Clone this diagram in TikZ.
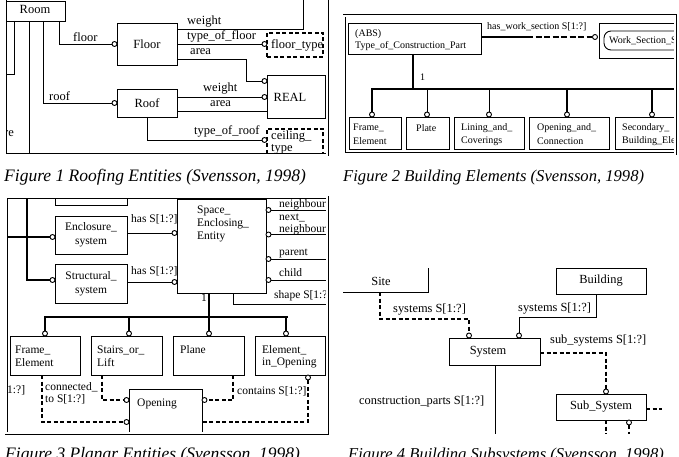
\documentclass[tikz,border=0pt]{standalone}
\usepackage{fontspec}
\setmainfont{Liberation Serif}
\newcommand\fA{\fontsize{12.5}{12.5}\selectfont}
\newcommand\fB{\fontsize{10}{12.5}\selectfont}
\newcommand\fC{\fontsize{11.5}{14}\selectfont}
\newcommand\fD{\fontsize{12.4}{14}\selectfont}
\newcommand\bx[6][box]{\node[#1, minimum width={(#5)-(#3)}, minimum height={(#6)-(#4)}] (#2) at ({((#3)+(#5))/2},{((#4)+(#6))/2}) {};}
\begin{document}
\begin{tikzpicture}[x=1pt,y=-1pt,
  box/.style={draw, line width=0.9pt, inner sep=0pt, outer sep=0pt},
  dbox/.style={draw, line width=1.6pt, dash pattern=on 4pt off 2.5pt, inner sep=0pt, outer sep=0pt},
  ln/.style={line width=0.9pt},
  thk/.style={line width=2.6pt},
  mid/.style={line width=1.8pt},
  dsh/.style={line width=1.8pt, dash pattern=on 4pt off 2.5pt},
  oc/.style={circle, draw, fill=white, line width=0.9pt, inner sep=0pt, minimum size=5pt},
  frm/.style={draw, double, double distance=1.6pt, line width=0.7pt},
  tx/.style={inner sep=0pt, anchor=west},
  captxt/.style={inner sep=0pt, anchor=base west, font=\fontsize{17.5}{20}\selectfont\itshape},
  captxtb/.style={inner sep=0pt, anchor=base west, font=\fontsize{16.6}{20}\selectfont\itshape},
]
\useasboundingbox (0,0) rectangle (679,457);

% ================= Figure 1 =================
\begin{scope}[font=\fA]
\clip (5,-5) rectangle (327,155);
\bx{room}{6}{1}{65}{21}
\node (troom) at (35,9) {Room};
\bx{floor}{117}{23}{177}{65}
\node (tfloor) at (floor.center) {Floor};
\bx{roof}{117}{89}{177}{117}
\node (troof) at (roof.center) {Roof};
\bx[dbox]{ftype}{267}{33}{323}{57}
\node[tx] (tftype) at (271,45) {floor\_type};
\bx{real}{267}{75}{325}{118}
\node (treal) at (290,97) {REAL};
\bx[dbox]{ctype}{267}{129}{323}{165}
\node[tx] (tct1) at (271,137) {ceiling\_};
\node[tx] (tct2) at (271,149) {type};
\node[oc] (cf) at (114.5,44) {};
\node[oc] (cr) at (114.5,103) {};
\node[oc] (cft) at (264.5,44) {};
\node[oc] (cra) at (264.5,81) {};
\node[oc] (crw) at (264.5,97) {};
\node[oc] (cct) at (264.5,140) {};
\coordinate (b1) at (14,74); \coordinate (b1l) at (0,74);
\draw[ln] (room.south -| b1) -- (b1) -- (b1l);
\coordinate (b2) at (29,160);
\draw[ln] (room.south -| b2) -- (b2);
\coordinate (b3) at (43,103);
\draw[ln] (room.south -| b3) -- (b3) -- (cr);
\coordinate (b4) at (59,44);
\draw[ln] (room.south -| b4) -- (b4) -- (cf);
\coordinate (b5) at (303,29); \coordinate (b5t) at (303,-5);
\draw[ln] (floor.east |- b5) -- (b5) -- (b5t);
\draw[ln] (floor.east |- cft) -- (cft);
\coordinate (b6) at (246,59); \coordinate (b7) at (246,81);
\draw[ln] (floor.east |- b6) -- (b6) -- (b7) -- (cra);
\draw[ln] (roof.east |- crw) -- (crw);
\coordinate (b8) at (180,111);
\draw[ln] (roof.east |- b8) -- (real.west |- b8);
\draw[ln] (roof.south) -- (roof.south |- cct) -- (cct);
\node[tx] (l1) at (73,37) {floor};
\node[tx] (l2) at (49,96) {roof};
\node[tx] (l3) at (187,22) {weight};
\node[tx] (l4) at (187,36) {type\_of\_floor};
\node[tx] (l5) at (190,52) {area};
\node[tx] (l6) at (203,89) {weight};
\node[tx] (l7) at (210,104) {area};
\node[tx] (l8) at (194,131) {type\_of\_roof};
\node[tx] (l9) at (4,134) {re};
\end{scope}
\draw[frm] (5,-5) rectangle (327,155);
\node[captxt] (cap1) at (4,181) {Figure 1 Roofing Entities (Svensson, 1998)};

% ================= Figure 2 =================
\begin{scope}[font=\fB]
\clip (344,16) rectangle (675,154);
\bx{abs}{348}{23}{481}{54}
\node[tx] (tabs1) at (355,34) {(ABS)};
\node[tx] (tabs2) at (355,46) {Type\_of\_Construction\_Part};
\node[oc] (cws) at (595,37) {};
\bx{wsout}{599}{23}{700}{58}
\node[box, rounded corners=7pt, minimum width=100, minimum height=19, anchor=west] (ws) at (604,40.5) {};
\node[tx] (tws) at (609,41) {Work\_Section\_S};
\coordinate (hw) at (527,37);
\draw[mid] (abs.east |- hw) -- (hw);
\draw[dsh, dash pattern=on 6pt off 2.5pt] (hw) -- (cws);
\node[tx] (lhw) at (487,27) {has\_work\_section S[1:?]};
\coordinate (bus2) at (413,89);
\draw[thk] (abs.south -| bus2) -- (bus2);
\coordinate (busL) at (371,89); \coordinate (busR) at (690,89);
\draw[thk] (busL) -- (busR);
\node[tx] (lone2) at (420,77) {1};
\bx{fe2}{349}{117}{401}{149}
\bx{plate}{406}{117}{449}{149}
\bx{lining}{454}{117}{524}{149}
\bx{opcon}{529}{117}{609}{149}
\bx{sbe}{615}{117}{700}{149}
\node[oc] (c21) at (372,114.5) {};
\node[oc] (c22) at (427,114.5) {};
\node[oc] (c23) at (489,114.5) {};
\node[oc] (c24) at (567,114.5) {};
\node[oc] (c25) at (652,114.5) {};
\draw[thk] (c21 |- busL) -- (c21);
\draw[ln] (c22 |- busL) -- (c22);
\draw[ln] (c23 |- busL) -- (c23);
\draw[thk] (c24 |- busL) -- (c24);
\draw[thk] (c25 |- busL) -- (c25);
\node[tx] (t21) at (353,128) {Frame\_};
\node[tx] (t22) at (353,141) {Element};
\node[tx] (t23) at (416,128) {Plate};
\node[tx] (t24) at (461,128) {Lining\_and\_};
\node[tx] (t25) at (461,141) {Coverings};
\node[tx] (t26) at (537,128) {Opening\_and\_};
\node[tx] (t27) at (537,141) {Connection};
\node[tx] (t28) at (622,128) {Secondary\_};
\node[tx] (t29) at (622,141) {Building\_Ele};
\end{scope}
\draw[frm] (344,16) rectangle (675,154);
\node[captxtb] (cap2) at (343,181) {Figure 2 Building Elements (Svensson, 1998)};

% ================= Figure 3 =================
\begin{scope}[font=\fC]
\clip (6,197) rectangle (327,433);
\bx{topbox}{55}{180}{127}{205}
\bx{encl}{55}{216}{127}{254}
\node[align=center, inner sep=0pt] (tencl) at (encl.center) {Enclosure\_\\system};
\bx{struc}{55}{264}{127}{303}
\node[align=center, inner sep=0pt] (tstruc) at (struc.center) {Structural\_\\system};
\bx{space}{177}{199}{266}{293}
\node[tx] (ts1) at (197,211) {Space\_};
\node[tx] (ts2) at (197,224) {Enclosing\_};
\node[tx] (ts3) at (197,237) {Entity};
\node[oc] (ce1) at (52.5,237) {};
\node[oc] (cs1) at (52.5,280) {};
\node[oc] (ce2) at (174.5,233) {};
\node[oc] (cs2) at (174.5,282) {};
\node[oc] (cn1) at (268.5,210) {};
\node[oc] (cn2) at (268.5,234.5) {};
\node[oc] (cn3) at (268.5,259) {};
\node[oc] (cn4) at (268.5,280) {};
\coordinate (lft1) at (0,237);
\draw[thk] (lft1) -- (ce1);
\coordinate (lft2) at (27,190); \coordinate (lft3) at (27,280);
\draw[thk] (lft2) -- (lft3) -- (cs1);
\draw[ln] (encl.east |- ce2) -- (ce2);
\draw[ln] (struc.east |- cs2) -- (cs2);
\coordinate (rr) at (340,0);
\draw[ln] (cn1) -- (cn1 -| rr);
\draw[ln] (cn2) -- (cn2 -| rr);
\draw[ln] (cn3) -- (cn3 -| rr);
\draw[ln] (cn4) -- (cn4 -| rr);
\node[tx] (lh1) at (131,219) {has S[1:?]};
\node[tx] (lh2) at (131,271) {has S[1:?]};
\node[tx] (ln1) at (279,205) {neighbour};
\node[tx] (ln2) at (279,218) {next\_};
\node[tx] (ln3) at (279,230) {neighbour};
\node[tx] (ln4) at (279,253) {parent};
\node[tx] (ln5) at (279,273) {child};
\coordinate (sh1) at (233,304);
\draw[ln] (space.south -| sh1) -- (sh1) -- (sh1 -| rr);
\node[tx] (lsh) at (274,296) {shape S[1:?]};
\node[tx] (lone3) at (201,298) {1};
\coordinate (v3) at (209,317);
\draw[thk] (space.south -| v3) -- (v3);
\coordinate (bus3l) at (44,317); \coordinate (bus3r) at (287.5,317);
\draw[thk] (bus3l) -- (bus3r);
\bx{fe3}{10}{336}{80}{375}
\bx{stairs}{91}{336}{162}{375}
\bx{plane}{173}{336}{244}{375}
\bx{eio}{255}{336}{325}{375}
\node[oc] (c31) at (45,333.5) {};
\node[oc] (c32) at (129,333.5) {};
\node[oc] (c33) at (209,333.5) {};
\node[oc] (c34) at (286,333.5) {};
\draw[thk] (c31 |- bus3l) -- (c31);
\draw[thk] (c32 |- bus3l) -- (c32);
\draw[mid] (c33 |- bus3l) -- (c33);
\draw[thk] (c34 |- bus3l) -- (c34);
\node[tx] (t31) at (15,350) {Frame\_};
\node[tx] (t32) at (15,363) {Element};
\node[tx] (t33) at (97,350) {Stairs\_or\_};
\node[tx] (t34) at (97,363) {Lift};
\node[tx] (t35) at (180,350) {Plane};
\node[tx] (t36) at (262,350) {Element\_};
\node[tx] (t37) at (262,363) {in\_Opening};
\bx{opening}{129}{389}{202}{432}
\node[tx] (topen) at (137,404) {Opening};
\node[oc] (co1) at (126.5,400) {};
\node[oc] (co2) at (126.5,422) {};
\node[oc] (co3) at (204.5,400) {};
\node[oc] (co4) at (308,377.5) {};
\coordinate (d1) at (102,400);
\draw[dsh] (stairs.south -| d1) -- (d1) -- (co1);
\coordinate (d2) at (42,422);
\draw[dsh] (fe3.south -| d2) -- (d2) -- (co2);
\coordinate (d3) at (233,400);
\draw[dsh] (plane.south -| d3) -- (d3) -- (co3);
\coordinate (d4) at (308,422);
\draw[dsh] (co4) -- (d4) -- (opening.east |- d4);
\node[tx] (lc1) at (45,387) {connected\_};
\node[tx] (lc2) at (45,399) {to S[1:?]};
\node[tx] (lc3) at (237,391) {contains S[1:?]};
\node[tx] (lc4) at (7,390) {1:?]};
\end{scope}
\draw[frm] (6,197) rectangle (327,433);
\node[captxt] (cap3) at (5,459) {Figure 3 Planar Entities (Svensson, 1998)};

% ================= Figure 4 =================
\begin{scope}[font=\fD]
\begin{scope}
\clip (343,268) rectangle (440,300);
\bx{site}{330}{250}{428}{292}
\end{scope}
\node (tsite) at (381,281) {Site};
\bx{bldg}{556}{268}{646}{294}
\node (tbldg) at (bldg.center) {Building};
\bx{system}{449}{338}{540}{365}
\node (tsys) at (488,352) {System};
\bx{sub}{556}{394}{646}{420}
\node (tsub) at (sub.center) {Sub\_System};
\node[oc] (c4a) at (469,335.5) {};
\node[oc] (c4b) at (519,335.5) {};
\node[oc] (c4c) at (606,391.5) {};
\node[oc] (c4d) at (629,422.5) {};
\coordinate (s1) at (380,319); \coordinate (s2) at (469,319);
\draw[dsh] (site.south -| s1) -- (s1) -- (s2) -- (c4a);
\coordinate (g1) at (596,317); \coordinate (g2) at (519,317);
\draw[ln] (bldg.south -| g1) -- (g1) -- (g2) -- (c4b);
\coordinate (u1) at (606,353);
\draw[dsh] (system.east |- u1) -- (u1) -- (c4c);
\coordinate (u2) at (662,409);
\draw[dsh] (sub.east |- u2) -- (u2);
\coordinate (u3) at (606,434);
\draw[dsh] (sub.south -| u3) -- (u3);
\coordinate (u4) at (629,434);
\draw[dsh] (c4d) -- (u4);
\coordinate (cp) at (495,434);
\draw[ln] (system.south -| cp) -- (cp);
\node[tx] (ls1) at (393,310) {systems S[1:?]};
\node[tx] (ls2) at (518,309) {systems S[1:?]};
\node[tx] (ls3) at (550,341) {sub\_systems S[1:?]};
\node[tx] (ls4) at (359,402) {construction\_parts S[1:?]};
\end{scope}
\node[captxtb] (cap4) at (348,459) {Figure 4 Building Subsystems (Svensson, 1998)};
\end{tikzpicture}
\end{document}
